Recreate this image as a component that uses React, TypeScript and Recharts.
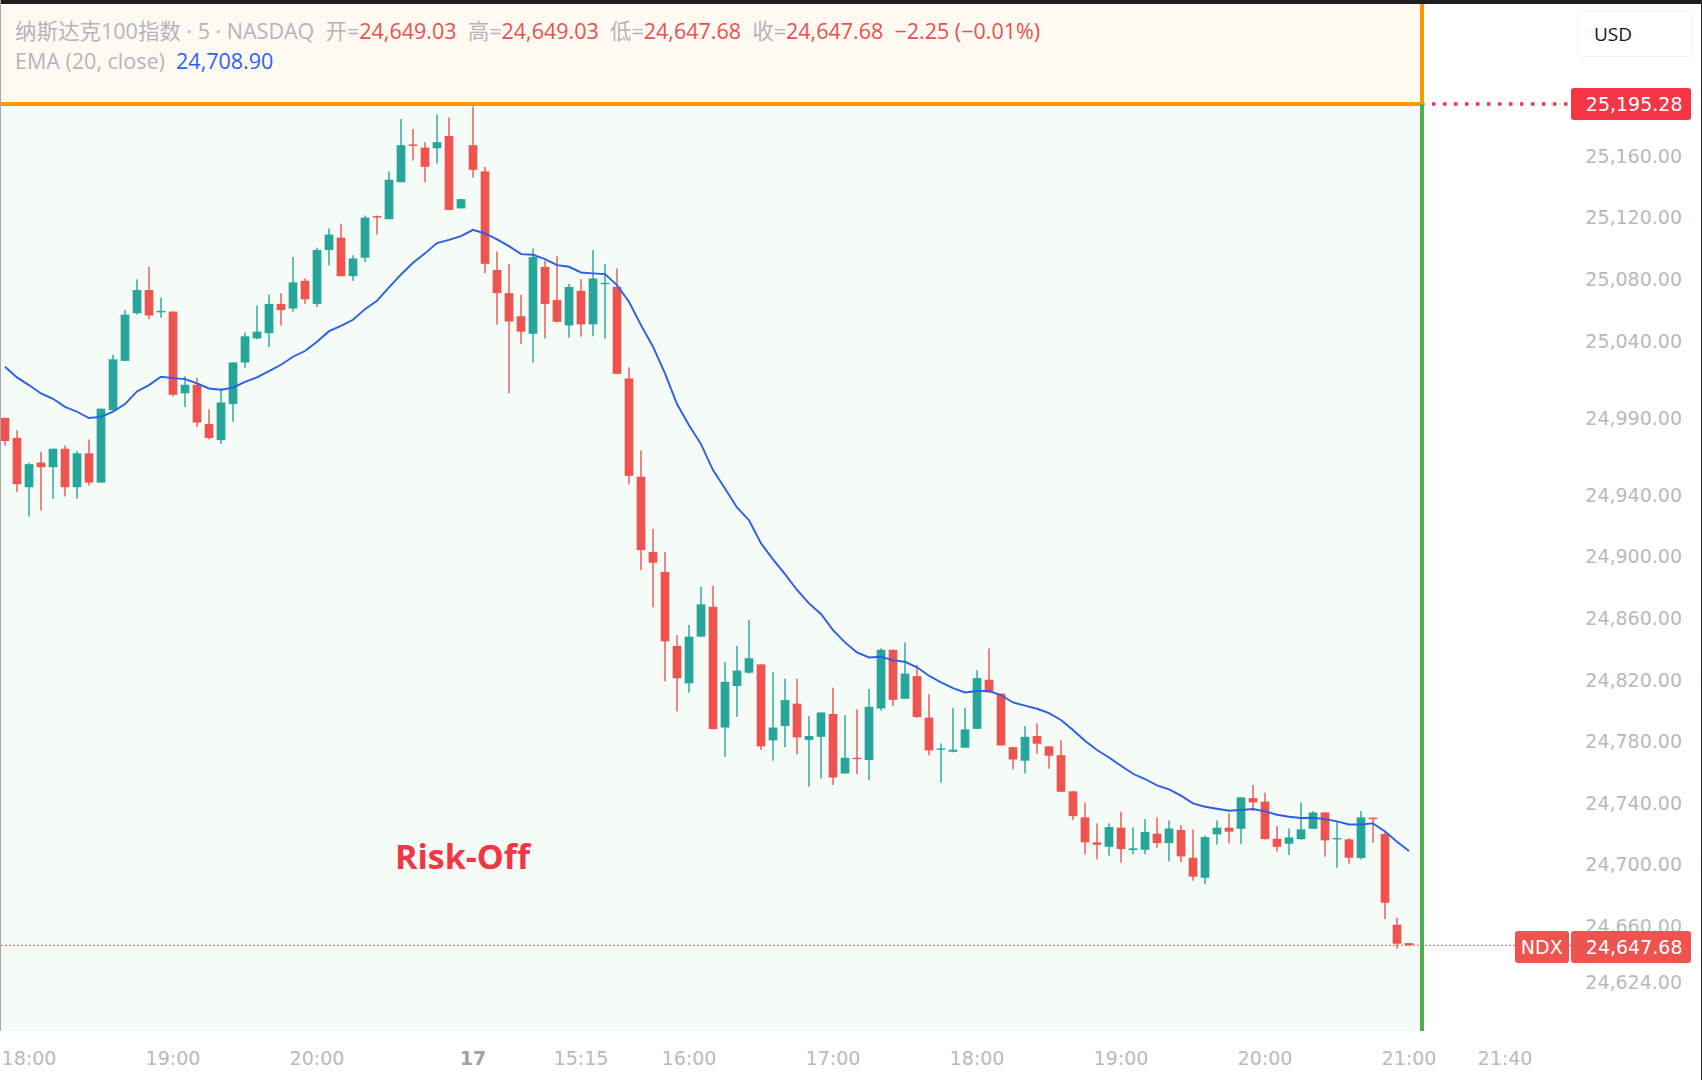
import { Bar, ComposedChart, Line, ReferenceLine, XAxis, YAxis } from "recharts"

const opens = [
  24990, 24977, 24945, 24961, 24958, 24970, 24945, 24967, 24948, 24995,
  25027, 25058, 25073, 25058.5, 25059, 25006, 25011.5, 24986, 24975.6, 24999,
  25026, 25041.6, 25045, 25064, 25061, 25079, 25064, 25099, 25107, 25082,
  25094, 25121, 25119, 25143, 25167.5, 25165.4, 25165, 25173, 25126, 25167,
  25150, 25086, 25071, 25056, 25044.6, 25088, 25066.5, 25050, 25072.5, 25050.7,
  25077.3, 25075, 25015.6, 24951.8, 24903, 24890, 24842, 24817.7, 24848, 24867.4,
  24789, 24816, 24824.6, 24830, 24780.7, 24790, 24804.5, 24781, 24783, 24797.8,
  24759.2, 24769.4, 24767.9, 24801.4, 24839.5, 24807.7, 24822.4, 24795.4, 24774.8, 24773.3,
  24775.9, 24788.2, 24820, 24811, 24776.3, 24767.5, 24783.5, 24776.8, 24771.1, 24747.6,
  24730.7, 24714.5, 24711.6, 24724, 24709.5, 24709.7, 24720.1, 24714, 24722.5, 24704.5,
  24691.5, 24719.7, 24724, 24723.3, 24743.2, 24740.9, 24716.8, 24713.6, 24716.6, 24723.3,
  24733.9, 24716.6, 24716.4, 24704.3, 24730.5, 24719.9, 24661, 24649.03,
]

const closes = [
  24975, 24947, 24960, 24958, 24970, 24945, 24967, 24948, 24996, 25028,
  25057, 25073, 25056.5, 25059.5, 25005, 25011.5, 24987, 24977, 25000, 25026,
  25043, 25046, 25064, 25060, 25078, 25067, 25099, 25109, 25082, 25093.5,
  25120, 25120.4, 25144.6, 25167, 25167, 25153, 25169, 25125, 25132, 25151,
  25090, 25071, 25052.6, 25046, 25094.4, 25064, 25052.4, 25075, 25050.7, 25080.5,
  25077.7, 25018.6, 24952.4, 24904.2, 24896, 24845, 24821, 24848, 24869, 24788,
  24818.7, 24826, 24834, 24776.8, 24789, 24806.8, 24782.6, 24783.5, 24798.8, 24756.6,
  24769.4, 24768.8, 24802.5, 24839.5, 24807, 24824, 24795.8, 24774.2, 24775.5, 24774.6,
  24787.8, 24821.1, 24811.8, 24777.4, 24768.3, 24783, 24778.5, 24770.7, 24747.3, 24731.5,
  24714.5, 24712.9, 24724.4, 24710.1, 24710.6, 24721.2, 24714, 24723.5, 24705.4, 24692.2,
  24717.9, 24724, 24721.4, 24743.7, 24740.4, 24716.6, 24711.6, 24717.7, 24722.9, 24733.9,
  24715.8, 24717.3, 24704.5, 24730.7, 24729.8, 24675.3, 24648.7, 24647.68,
]

const highs = [
  24990, 24982, 24961, 24968, 24970, 24972, 24968.5, 24976, 24996, 25031,
  25060, 25080, 25088, 25068, 25059, 25017, 25016, 24995.5, 25009, 25026,
  25045.5, 25063, 25070, 25071, 25094.4, 25080.5, 25100.4, 25113, 25116, 25095.5,
  25121.4, 25121.4, 25150, 25184, 25177.5, 25169, 25187, 25185, 25132, 25192,
  25153, 25098, 25090, 25070, 25100, 25092, 25095, 25077, 25080, 25099,
  25090, 25087, 25022.8, 24969, 24918, 24903, 24849, 24855.5, 24880.4, 24881,
  24831.5, 24842, 24858.8, 24830, 24825, 24820.7, 24820.7, 24796.5, 24798.8, 24814.9,
  24797, 24800.8, 24814, 24840.4, 24839.5, 24844.3, 24829.6, 24810.7, 24778.7, 24801.7,
  24801.7, 24826.3, 24840.4, 24811, 24776.3, 24790, 24791.7, 24776.8, 24780.9, 24747.6,
  24740.2, 24726.8, 24726.8, 24734.4, 24724.2, 24729.6, 24730.7, 24728.7, 24725.7, 24722.9,
  24718.8, 24728.7, 24733.3, 24743.7, 24751.7, 24746.7, 24725.1, 24723.5, 24740.4, 24734.8,
  24733.9, 24727.7, 24717.1, 24734.8, 24730.5, 24721.4, 24665.6, 24649.03,
]

const lows = [
  24972, 24942, 24926, 24930, 24937.5, 24939, 24937.5, 24946, 24948, 24995,
  25027, 25057, 25054, 25055, 25004, 24997, 24984, 24976, 24973, 24987.5,
  25022.5, 25041, 25036, 25050, 25059, 25064, 25062, 25089, 25082, 25079,
  25091, 25109, 25119, 25143, 25157, 25143, 25155, 25125, 25126, 25146,
  25084, 25050.5, 25006, 25038, 25026, 25041.6, 25052, 25042, 25042.7, 25043,
  25041.4, 25018.6, 24946.8, 24891.2, 24867, 24819, 24799.5, 24811.6, 24848, 24788,
  24770, 24796, 24824, 24774.4, 24767.5, 24776.3, 24771.6, 24750.6, 24756, 24751.7,
  24759.2, 24758.8, 24754.9, 24800, 24803, 24807.7, 24795.4, 24771, 24753.2, 24772.9,
  24775.9, 24788.2, 24811.8, 24777.4, 24761.8, 24759.2, 24772, 24762.3, 24747.3, 24728.9,
  24706.7, 24703.4, 24705.8, 24701.3, 24706.7, 24706.7, 24711, 24702.1, 24701.7, 24689.6,
  24687.4, 24713, 24713.8, 24713.4, 24734.8, 24716.2, 24708.4, 24706.2, 24716.2, 24723.3,
  24705.2, 24698, 24700.6, 24703.4, 24714.2, 24664.7, 24645.6, 24647.68,
]

const ema20 = [
  25023.2, 25016.3, 25011.3, 25005.9, 25002.4, 24997.2, 24994, 24989.9, 24990.7, 24994,
  24999, 25007.2, 25011.3, 25016.7, 25015.8, 25015.2, 25012.4, 25009.1, 25008.3, 25009.6,
  25013.4, 25016.3, 25020.4, 25024.5, 25029.7, 25033.4, 25039.4, 25046.3, 25049.8, 25053.7,
  25060.6, 25066, 25074.7, 25083.1, 25090.7, 25096.8, 25103.5, 25105.6, 25108, 25112.1,
  25109.7, 25105.9, 25101.5, 25096.3, 25095.9, 25093.1, 25089.2, 25088.1, 25084.4, 25083.8,
  25083.3, 25076.2, 25065.4, 25050.2, 25036.2, 25018.9, 24999, 24985.3, 24973, 24956.1,
  24944.2, 24931.9, 24923.6, 24908.6, 24898.2, 24888.6, 24878.3, 24869.6, 24862.7, 24852.3,
  24844.3, 24837.8, 24834.5, 24835, 24832.6, 24831.7, 24828.1, 24822.6, 24818.3, 24814.6,
  24811.8, 24812.7, 24812.7, 24810.1, 24805.3, 24803.2, 24801.2, 24798.4, 24793.9, 24787.4,
  24780.4, 24774.4, 24769.6, 24764.2, 24759, 24755.6, 24751.5, 24748.9, 24744.8, 24739.8,
  24737.6, 24736.3, 24735, 24735.5, 24736.1, 24734.6, 24732.4, 24731.1, 24730.3, 24730.5,
  24729.6, 24728.1, 24726.1, 24726.1, 24726.8, 24721.6, 24714.9, 24708.9,
]

const priceTicks = [
  25160, 25120, 25080, 25040, 24990, 24940, 24900, 24860, 24820, 24780, 24740, 24700, 24660, 24624,
]
const timeTicks = [2, 14, 26, 39, 48, 57, 69, 81, 93, 105, 117, 125]
const timeLabels = ["18:00", "19:00", "20:00", "17", "15:15", "16:00", "17:00", "18:00", "19:00", "20:00", "21:00", "21:40"]

const alertLevel = 25193.8
const lastPrice = 24647.68
const priceDomain = [24592.04, 25261.26]
const slotCount = 141
const rangeEndSlot = 118

const rows = Array.from({ length: slotCount }, (_, i) => ({
  slot: i,
  open: opens[i],
  high: highs[i],
  low: lows[i],
  close: closes[i],
  ema: ema20[i] ?? null,
}))

const UP = "#26A69A"
const DOWN = "#EF5350"
const HEADER_RED = "#E9504F"
const TICK = "#B6B9C1"
const FONT = '"Open Sans", "Noto Sans CJK SC", sans-serif'
const AXIS_FONT = '"DejaVu Sans", sans-serif'

function Candle(props: any) {
  const { x, y, width, height, payload } = props
  if (payload.high === undefined) return null
  const perPoint = height / (payload.high - payload.low)
  const top = y + (payload.high - Math.max(payload.open, payload.close)) * perPoint
  const bottom = y + (payload.high - Math.min(payload.open, payload.close)) * perPoint
  const color = payload.close >= payload.open ? UP : DOWN
  const cx = x + width / 2
  return (
    <g>
      <rect x={cx - 0.7} y={y} width={1.4} height={height} fill={color} />
      <rect x={cx - 4.35} y={top} width={8.7} height={Math.max(bottom - top, 1.4)} fill={color} />
    </g>
  )
}

function TimeTick(props: any) {
  const { x, y, payload } = props
  const label = timeLabels[timeTicks.indexOf(payload.value)]
  const bold = label === "17"
  return (
    <text
      x={x}
      y={y + 22}
      textAnchor="middle"
      dominantBaseline="middle"
      fontFamily={AXIS_FONT}
      fontSize={19}
      fontWeight={bold ? 700 : 400}
      fill={bold ? "#9EA2AC" : TICK}
    >
      {label}
    </text>
  )
}

const box = (left: number, top: number, width: number, height: number, background: string): any => ({
  position: "absolute",
  left,
  top,
  width,
  height,
  background,
})

const badge = (left: number, width: number, top: number, background: string): any => ({
  ...box(left, top, width, 32, background),
  borderRadius: 3,
  color: "#fff",
  fontFamily: AXIS_FONT,
  fontSize: 19,
  lineHeight: "32px",
  textAlign: "center",
})

export default function App() {
  return (
    <div style={{ position: "absolute", left: 0, top: 0, width: 1702, height: 1080, overflow: "hidden", background: "#fff" }}>
      <div style={box(0, 4, 1421, 100, "#FFFAF1")} />
      <div style={box(0, 104, 1421, 927, "#F5FBF6")} />

      <div style={{ position: "absolute", left: -1, top: 0 }}>
        <ComposedChart
          width={1704}
          height={1080}
          data={rows}
          barCategoryGap={0}
          margin={{ top: 0, right: 12, bottom: 0, left: 0 }}
        >
          <XAxis
            dataKey="slot"
            ticks={timeTicks}
            interval={0}
            height={49}
            axisLine={false}
            tickLine={false}
            tickMargin={0}
            tick={<TimeTick />}
          />
          <YAxis
            orientation="right"
            mirror
            domain={priceDomain}
            allowDataOverflow
            ticks={priceTicks}
            interval={0}
            axisLine={false}
            tickLine={false}
            tickMargin={3}
            tickFormatter={(v: number) => v.toLocaleString("en-US", { minimumFractionDigits: 2 })}
            tick={{ fill: TICK, fontSize: 19, fontFamily: AXIS_FONT }}
          />
          <ReferenceLine y={lastPrice} stroke={DOWN} strokeWidth={1} strokeDasharray="2 2" />
          <ReferenceLine
            segment={[{ x: rangeEndSlot, y: alertLevel }, { x: 131, y: alertLevel }]}
            stroke="#F23645"
            strokeWidth={3.4}
            strokeDasharray="3.5 7.5"
          />
          <Bar dataKey={(d: any) => (d.high === undefined ? undefined : [d.low, d.high])} shape={<Candle />} isAnimationActive={false} />
          <Line dataKey="ema" type="linear" stroke="#2B5FE3" strokeWidth={1.9} dot={false} isAnimationActive={false} />
        </ComposedChart>
      </div>

      {/* range frame */}
      <div style={box(0, 102.3, 1421, 3.4, "#FF9800")} />
      <div style={box(1420, 4, 3.6, 100, "#FF9800")} />
      <div style={box(1420, 104, 3.6, 927, "#4CAF50")} />

      {/* screenshot edges */}
      <div style={box(0, 0, 1702, 3.5, "#1F1F1F")} />
      <div style={box(0, 0, 1, 1031, "#A8A8A8")} />
      <div style={box(1700.5, 0, 1.5, 1080, "#2A2A2A")} />

      <div style={{ position: "absolute", left: 15, top: 16, whiteSpace: "pre", fontFamily: FONT, fontSize: 21.5, lineHeight: "30px", color: "#B2B5BE" }}>
        纳斯达克100指数 · 5 · NASDAQ{"  "}开=<span style={{ color: HEADER_RED }}>24,649.03</span>{"  "}高=
        <span style={{ color: HEADER_RED }}>24,649.03</span>{"  "}低=<span style={{ color: HEADER_RED }}>24,647.68</span>{"  "}收=
        <span style={{ color: HEADER_RED }}>24,647.68{"  "}−2.25 (−0.01%)</span>
        <br />
        EMA (20, close){"  "}<span style={{ color: "#2962FF" }}>24,708.90</span>
      </div>

      <div style={{ ...box(1577, 11, 116, 46, "#fff"), boxSizing: "border-box", border: "1px solid #F0F1F5", borderRadius: 6, paddingLeft: 16, lineHeight: "44px", fontFamily: FONT, fontSize: 19, color: "#131722" }}>
        USD
      </div>
      <div style={{ ...badge(1570.5, 120, 88, "#F23645"), textAlign: "right", boxSizing: "border-box", paddingRight: 8 }}>25,195.28</div>
      <div style={badge(1514.5, 54.5, 931, DOWN)}>NDX</div>
      <div style={{ ...badge(1570.5, 120, 931, DOWN), textAlign: "right", boxSizing: "border-box", paddingRight: 8 }}>24,647.68</div>

      <div style={{ position: "absolute", left: 395, top: 832, fontFamily: FONT, fontSize: 34, fontWeight: 700, lineHeight: "48px", color: "#F23645" }}>
        Risk-Off
      </div>
    </div>
  )
}
